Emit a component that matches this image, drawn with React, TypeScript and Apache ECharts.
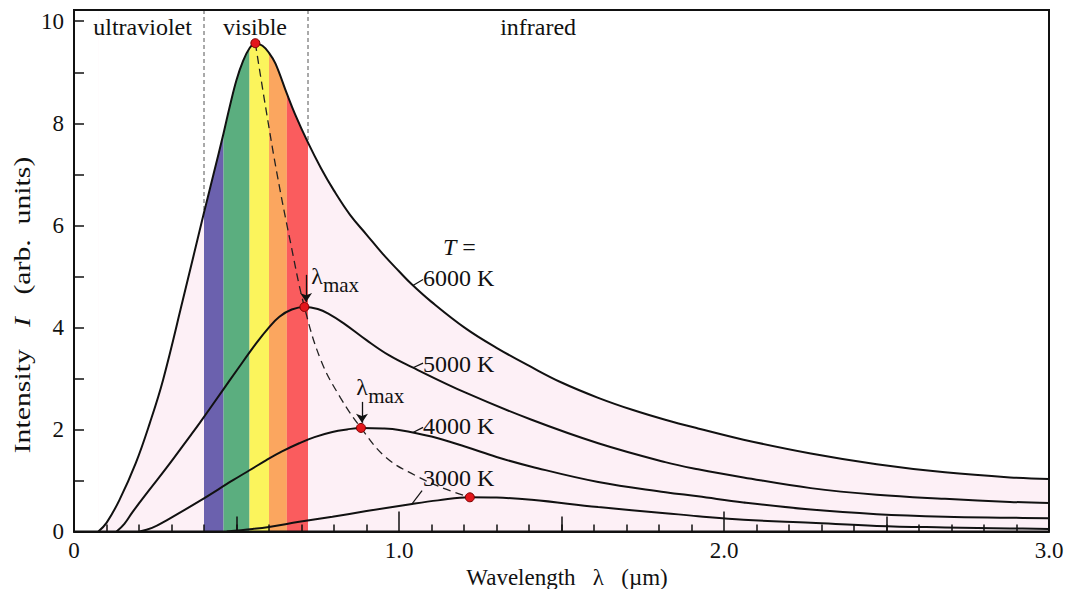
import React, { useEffect, useRef } from "react";
import * as echarts from "echarts";

// ---- data (x: wavelength µm, y: intensity arb. units) ----
const curve6000 = [
  [0.075, 0], [0.1, 0.17], [0.14, 0.62], [0.19, 1.34], [0.233, 2.12], [0.274, 2.97],
  [0.335, 4.54], [0.4, 6.25], [0.43, 7.02], [0.46, 7.8], [0.48, 8.35], [0.5, 8.85],
  [0.52, 9.22], [0.54, 9.47], [0.558, 9.57], [0.58, 9.52], [0.6, 9.38], [0.62, 9.17],
  [0.655, 8.58], [0.68, 8.18], [0.72, 7.62], [0.76, 7.12], [0.8, 6.68], [0.85, 6.2],
  [0.9, 5.82], [0.95, 5.44], [1.0, 5.1], [1.04, 4.84], [1.1, 4.5], [1.205, 3.98],
  [1.3, 3.6], [1.408, 3.22], [1.5, 2.92], [1.613, 2.62], [1.72, 2.38], [1.819, 2.19],
  [1.92, 2.02], [2.06, 1.8], [2.267, 1.53], [2.47, 1.32], [2.68, 1.16], [2.88, 1.06],
  [3.0, 1.03],
];
const curve5000 = [
  [0.131, 0], [0.155, 0.15], [0.18, 0.38], [0.23, 0.8], [0.285, 1.25], [0.356, 1.86],
  [0.387, 2.13], [0.458, 2.77], [0.5, 3.15], [0.561, 3.69], [0.6, 4.0], [0.632, 4.21],
  [0.67, 4.35], [0.709, 4.4], [0.75, 4.36], [0.785, 4.26], [0.83, 4.08], [0.9, 3.75],
  [0.97, 3.45], [1.04, 3.22], [1.205, 2.72], [1.408, 2.19], [1.613, 1.73], [1.819, 1.36],
  [1.92, 1.22], [2.06, 1.06], [2.267, 0.85], [2.47, 0.72], [2.68, 0.64], [2.88, 0.58],
  [3.0, 0.56],
];
const curve4000 = [
  [0.202, 0], [0.24, 0.07], [0.285, 0.22], [0.387, 0.6], [0.488, 1.0], [0.54, 1.2],
  [0.592, 1.4], [0.64, 1.57], [0.693, 1.73], [0.74, 1.85], [0.795, 1.95], [0.84, 2.0],
  [0.883, 2.03], [0.95, 2.02], [1.0, 1.99], [1.1, 1.86], [1.205, 1.66], [1.3, 1.46],
  [1.408, 1.27], [1.613, 0.97], [1.82, 0.77], [1.92, 0.69], [2.06, 0.57], [2.267, 0.43],
  [2.47, 0.34], [2.68, 0.29], [2.88, 0.27], [3.0, 0.26],
];
const curve3000 = [
  [0.47, 0], [0.55, 0.05], [0.6, 0.09], [0.693, 0.19], [0.795, 0.29], [0.9, 0.4],
  [1.04, 0.54], [1.12, 0.61], [1.218, 0.67], [1.3, 0.665], [1.408, 0.62], [1.613, 0.48],
  [1.819, 0.36], [1.92, 0.3], [2.06, 0.23], [2.267, 0.17], [2.47, 0.11], [2.68, 0.08],
  [2.88, 0.06], [3.0, 0.05],
];
const peaks = [[0.558, 9.57], [0.709, 4.4], [0.883, 2.03], [1.218, 0.67]];
const wienLocus = [
  [0.558, 9.57], [0.59, 8.3], [0.625, 7.0], [0.665, 5.7], [0.709, 4.4], [0.76, 3.35],
  [0.82, 2.62], [0.883, 2.03], [0.96, 1.45], [1.05, 1.1], [1.14, 0.84], [1.218, 0.67],
];
const bandEdges = [0.4, 0.46, 0.54, 0.6, 0.655, 0.72];
const bandColors = ["#6b61ae", "#5bae7f", "#fbf45c", "#fba65f", "#fa5c5e"];
const visibleEdges = [[0.4, 6.25], [0.72, 7.62]];
const xTickLabels = [0, 1, 2, 3];
const xHalfTicks = [0.5, 1.5, 2.5];
const yTickLabels = [0, 2, 4, 6, 8, 10];
const yTicks = [0, 1, 2, 3, 4, 5, 6, 7, 8, 9, 10];
const Y_MAX = 10.22;

const FONT = "Liberation Serif";
const TXT = "#111";

export default function App() {
  const ref = useRef<HTMLDivElement>(null);

  useEffect(() => {
    document.body.style.margin = "0";
    const chart = echarts.init(ref.current!, null, { renderer: "svg" });

    const SMOOTH = 0.4;
    const x0 = curve6000[0][0];
    const x1 = curve6000[curve6000.length - 1][0];

    const curve = (d: number[][]) => ({
      type: "line",
      data: d,
      smooth: SMOOTH,
      symbol: "none",
      silent: true,
      lineStyle: { color: "#111", width: 2 },
      z: 4,
    });

    chart.setOption({
      animation: false,
      backgroundColor: "#ffffff",
      grid: {
        left: 74,
        right: 18,
        top: 10,
        bottom: 57.5,
        show: true,
        borderColor: "#111",
        borderWidth: 2,
        backgroundColor: "transparent",
        outerBoundsMode: "none",
        z: 8,
      },
      xAxis: [
        {
          type: "value",
          min: 0,
          max: 3,
          interval: 1,
          z: 8,
          axisLine: { show: true, lineStyle: { color: "#111", width: 2 } },
          axisTick: { show: true, inside: true, length: 20, lineStyle: { color: "#111", width: 1.5 } },
          minorTick: { show: true, splitNumber: 10, length: 7, lineStyle: { color: "#111", width: 1.5 } },
          axisLabel: {
            customValues: xTickLabels,
            formatter: (v: number) => (v === 0 ? "0" : v.toFixed(1)),
            fontFamily: FONT,
            fontSize: 23,
            color: TXT,
            margin: 7,
          },
          splitLine: { show: false },
          minorSplitLine: { show: false },
        },
        {
          type: "value",
          min: 0,
          max: 3,
          position: "bottom",
          z: 8,
          axisLine: { show: false },
          axisTick: { show: true, inside: true, length: 15, customValues: xHalfTicks, lineStyle: { color: "#111", width: 1.5 } },
          axisLabel: { show: false },
          splitLine: { show: false },
        },
      ],
      yAxis: {
        type: "value",
        min: 0,
        max: Y_MAX,
        interval: 2,
        z: 8,
        axisLine: { show: true, lineStyle: { color: "#111", width: 2 } },
        axisTick: { show: true, inside: true, length: 10, customValues: yTicks, lineStyle: { color: "#111", width: 1.5 } },
        axisLabel: {
          customValues: yTickLabels,
          fontFamily: FONT,
          fontSize: 23,
          color: TXT,
          margin: 10,
        },
        splitLine: { show: false },
      },
      series: [
        // pink + colour bands as full-height areas, masked above the 6000 K curve
        {
          type: "line",
          data: [],
          silent: true,
          z: 1,
          markArea: {
            silent: true,
            label: { show: false },
            data: [
              [
                { xAxis: x0, yAxis: 0, itemStyle: { color: "#fdf0f6", opacity: 1 } },
                { xAxis: x1, yAxis: Y_MAX },
              ],
              ...bandColors.map((c, i) => [
                { xAxis: bandEdges[i], yAxis: 0, itemStyle: { color: c, opacity: 1 } },
                { xAxis: bandEdges[i + 1], yAxis: Y_MAX },
              ]),
            ],
          },
        },
        // white mask: fill from the 6000 K curve up to the top of the plot
        {
          type: "line",
          data: curve6000,
          smooth: SMOOTH,
          symbol: "none",
          silent: true,
          lineStyle: { width: 0 },
          areaStyle: { color: "#ffffff", opacity: 1, origin: "end" },
          z: 2,
        },
        ...visibleEdges.map((p) => ({
          type: "line",
          data: [[p[0], Y_MAX], p],
          symbol: "none",
          silent: true,
          lineStyle: { color: "#555", width: 1, type: [4, 3] },
          z: 3,
        })),
        curve(curve6000),
        curve(curve5000),
        curve(curve4000),
        curve(curve3000),
        {
          type: "line",
          data: wienLocus,
          smooth: SMOOTH,
          symbol: "none",
          silent: true,
          lineStyle: { color: "#222", width: 1.3, type: [8, 5] },
          z: 5,
        },
        {
          type: "scatter",
          data: peaks,
          symbolSize: 9,
          silent: true,
          itemStyle: { color: "#e3161b", borderColor: "#7a0000", borderWidth: 1, opacity: 1 },
          z: 7,
          markLine: {
            silent: true,
            symbol: ["none", "arrow"],
            symbolSize: 9,
            label: { show: false },
            lineStyle: { color: "#111", width: 1.3, type: "solid" },
            data: [
              [{ coord: [0.714, 5.03] }, { coord: [0.714, 4.5] }],
              [{ coord: [0.886, 2.54] }, { coord: [0.886, 2.13] }],
            ],
          },
        },
        {
          type: "line",
          data: [],
          silent: true,
          z: 6,
          markLine: {
            silent: true,
            symbol: ["none", "none"],
            label: { show: false },
            lineStyle: { color: "#111", width: 1.2, type: "solid" },
            data: [
              [{ coord: [1.043, 4.82] }, { coord: [1.074, 4.94] }],
              [{ coord: [1.043, 3.21] }, { coord: [1.074, 3.3] }],
              [{ coord: [1.043, 1.94] }, { coord: [1.074, 2.04] }],
              [{ coord: [1.04, 0.54] }, { coord: [1.071, 0.8] }],
            ],
          },
        },
      ],
    });

    const P = (x: number, y: number) =>
      chart.convertToPixel({ gridIndex: 0 }, [x, y]) as number[];

    const labels: { t: string; x: number; y: number; align?: string; size?: number }[] = [
      { t: "ultraviolet", x: 0.211, y: 9.88, align: "center", size: 24 },
      { t: "visible", x: 0.557, y: 9.88, align: "center", size: 24 },
      { t: "infrared", x: 1.428, y: 9.88, align: "center", size: 24 },
      { t: "{i|T} =", x: 1.135, y: 5.58, align: "left" },
      { t: "6000 K", x: 1.074, y: 4.97, align: "left" },
      { t: "5000 K", x: 1.074, y: 3.28, align: "left" },
      { t: "4000 K", x: 1.074, y: 2.07, align: "left" },
      { t: "3000 K", x: 1.074, y: 1.05, align: "left" },
      { t: "λ", x: 0.748, y: 5.0, align: "center" },
      { t: "max", x: 0.766, y: 4.83, align: "left", size: 21 },
      { t: "λ", x: 0.886, y: 2.83, align: "center" },
      { t: "max", x: 0.905, y: 2.66, align: "left", size: 21 },
    ];

    const graphic: any[] = labels.map((l) => {
      const p = P(l.x, l.y);
      const s = l.size ?? 24;
      return {
        type: "text",
        x: p[0],
        y: p[1],
        silent: true,
        z: 10,
        style: {
          text: l.t,
          fill: TXT,
          fontFamily: FONT,
          fontSize: s,
          align: l.align ?? "left",
          verticalAlign: "middle",
          rich: { i: { fontStyle: "italic", fontFamily: FONT, fontSize: s, fill: TXT } },
        },
      };
    });

    graphic.push({
      type: "text",
      x: 567,
      y: 577,
      silent: true,
      style: {
        text: "Wavelength   λ   (µm)",
        fill: TXT,
        fontFamily: FONT,
        fontSize: 23,
        align: "center",
        verticalAlign: "middle",
      },
    });
    graphic.push({
      type: "text",
      x: 22,
      y: 305,
      rotation: Math.PI / 2,
      scaleX: 1.24,
      silent: true,
      style: {
        text: "Intensity   {i|I}   (arb.  units)",
        fill: TXT,
        fontFamily: FONT,
        fontSize: 24,
        align: "center",
        verticalAlign: "middle",
        rich: { i: { fontStyle: "italic", fontFamily: FONT, fontSize: 24, fill: TXT } },
      },
    });

    chart.setOption({ graphic });

    return () => chart.dispose();
  }, []);

  return <div ref={ref} style={{ width: 1067, height: 589 }} />;
}
